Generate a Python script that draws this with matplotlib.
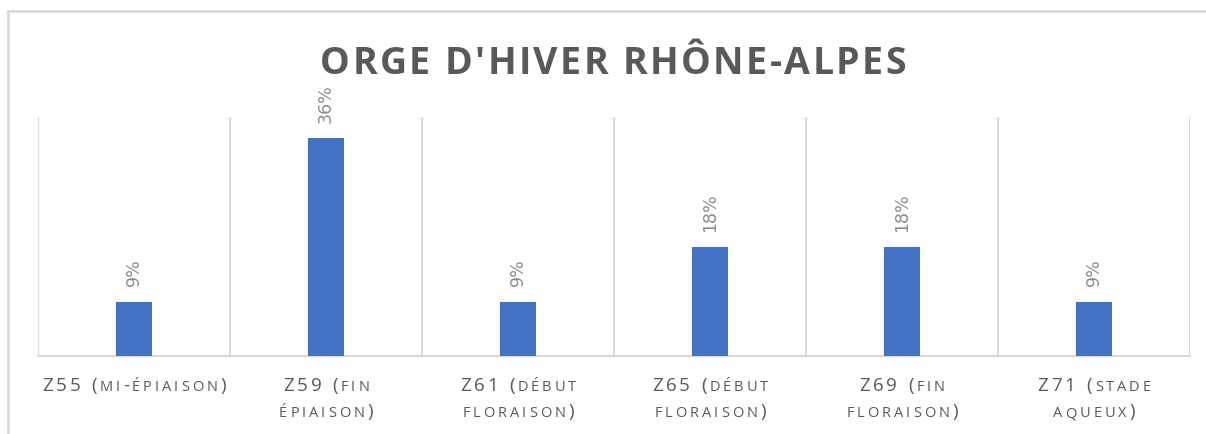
import matplotlib.pyplot as plt
from matplotlib.lines import Line2D
import numpy as np

# x labels as typed in the sheet; lowercase is drawn as small caps
stages = ["Z55 (mi-épiaison)", "Z59 (fin\népiaison)", "Z61 (début\nfloraison)",
          "Z65 (début\nfloraison)", "Z69 (fin\nfloraison)", "Z71 (stade\naqueux)"]
shares = [0.09, 0.36, 0.09, 0.18, 0.18, 0.09]
value_labels = ["9%", "36%", "9%", "18%", "18%", "9%"]
title = "ORGE D'HIVER RHÔNE-ALPES"

grey = "#595959"
grid_grey = "#D9D9D9"
W, H = 1206, 434

fig = plt.figure(figsize=(W / 100, H / 100), dpi=100)
ax = fig.add_axes([38 / W, 1 - 356 / H, 1152 / W, 239 / H])
renderer = fig.canvas.get_renderer()


def tracked_text(cx, base_y, runs, tracking, **kw):
    """Draw runs of (char, size) centred on pixel cx, baseline at pixel base_y (from bottom)."""
    items = []
    for ch, size in runs:
        if ch == " ":
            items.append((None, size * 100 / 72 * 0.26))
            continue
        t = fig.text(0, 0, ch, fontsize=size, va="baseline", ha="left", **kw)
        w = t.get_window_extent(renderer).width
        items.append((t, w))
    total = sum(w for _, w in items) + tracking * (len(items) - 1)
    x = cx - total / 2
    for t, w in items:
        if t is not None:
            t.set_position((x / W, base_y / H))
        x += w + tracking


x = np.arange(len(stages))
bars = ax.bar(x, shares, width=0.19, color="#4472C4", zorder=3)

for b, lab in zip(bars, value_labels):
    ax.annotate(lab, (b.get_x() + b.get_width() / 2, b.get_height()),
                xytext=(0, 11), textcoords="offset points", rotation=90,
                ha="center", va="bottom", fontsize=12.5, color="#8C8C8C")

ax.set_xlim(-0.5, len(stages) - 0.5)
ax.set_ylim(0, 0.395)
ax.set_yticks([])
ax.set_xticks(x)
ax.set_xticklabels([])
ax.tick_params(axis="x", length=0)

# category separators
ax.set_xticks(np.arange(-0.5, len(stages)), minor=True)
ax.tick_params(axis="x", which="minor", length=0)
ax.grid(axis="x", which="minor", color=grid_grey, linewidth=1.5, zorder=0)

for s in ["top", "left", "right"]:
    ax.spines[s].set_visible(False)
ax.spines["bottom"].set_color(grid_grey)
ax.spines["bottom"].set_linewidth(1.5)

# small-caps category labels
big, small = 13.5, 10.5
for i, lab in enumerate(stages):
    cx = ax.transData.transform((x[i], 0))[0]
    for k, line in enumerate(lab.split("\n")):
        runs = [(c.upper(), small if c.islower() else big) for c in line]
        tracked_text(cx, H - 391 - 26 * k, runs, 3.0, color=grey, family="Open Sans")

tracked_text(613, H - 74, [(c, 27) for c in title], 2.4,
             color=grey, family="Open Sans", fontweight="bold")

# outer chart frame (cut off at right and bottom)
fig.add_artist(Line2D([8 / W, 8 / W], [0, 1 - 11 / H], color=grid_grey, lw=2))
fig.add_artist(Line2D([8 / W, 1], [1 - 11 / H, 1 - 11 / H], color=grid_grey, lw=2))

fig.savefig("out.png", dpi=100)
